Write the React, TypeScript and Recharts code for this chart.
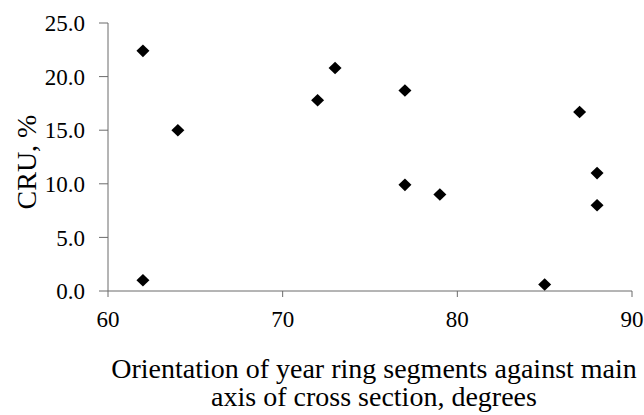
import React from 'react';
import { ScatterChart, Scatter, XAxis, YAxis, Label } from 'recharts';

const orientation = [62, 62, 64, 72, 73, 77, 77, 79, 85, 87, 88, 88];
const cru = [22.4, 1.0, 15.0, 17.8, 20.8, 18.7, 9.9, 9.0, 0.6, 16.7, 11.0, 8.0];
const xTicks = [60, 70, 80, 90];
const yTicks = [0, 5, 10, 15, 20, 25];

const data = orientation.map((x, i) => ({ x, y: cru[i] }));

const FONT = '"Liberation Serif", "Times New Roman", serif';
const AXIS = '#6b6b6b';

const Diamond = (props: any) => {
  const { cx, cy } = props;
  const rx = 6.5;
  const ry = 6.3;
  return <path d={`M${cx},${cy - ry}L${cx + rx},${cy}L${cx},${cy + ry}L${cx - rx},${cy}Z`} fill="#000" />;
};

const XTick = (props: any) => {
  const { x, y, payload } = props;
  return (
    <text x={x} y={y} dy="0.71em" textAnchor="middle" fontFamily={FONT} fontSize={23} fill="#000">
      {payload.value}
    </text>
  );
};

const YTick = (props: any) => {
  const { x, y, payload } = props;
  return (
    <text x={x} y={y} dy="0.355em" textAnchor="end" fontFamily={FONT} fontSize={23} fill="#000">
      {Number(payload.value).toFixed(1)}
    </text>
  );
};

const XLabel = (props: any) => {
  const vb = props.viewBox || {};
  const cx = vb.x + vb.width / 2 + 4;
  return (
    <text x={cx} textAnchor="middle" fontFamily={FONT} fontSize={28} fill="#000">
      <tspan x={cx} y={vb.y + 87}>Orientation of year ring segments against main</tspan>
      <tspan x={cx} y={vb.y + 115}>axis of cross section, degrees</tspan>
    </text>
  );
};

const YLabel = (props: any) => {
  const vb = props.viewBox || {};
  const x = vb.x + 36;
  const y = vb.y + vb.height / 2 + 5;
  return (
    <text x={x} y={y} transform={`rotate(-90, ${x}, ${y})`} textAnchor="middle" fontFamily={FONT} fontSize={28} fill="#000">
      CRU, %
    </text>
  );
};

export default function App() {
  return (
    <div style={{ position: 'absolute', left: 0, top: 0, width: 644, height: 415, background: '#fff' }}>
      <ScatterChart width={644} height={415} margin={{ top: 23, right: 12, left: 0, bottom: 0 }}>
        <XAxis
          type="number"
          dataKey="x"
          domain={[60, 90]}
          ticks={xTicks}
          stroke={AXIS}
          tickSize={6}
          tickMargin={14}
          height={124}
          tick={<XTick />}
          tickLine={{ stroke: AXIS }}
        >
          <Label content={<XLabel />} />
        </XAxis>
        <YAxis
          type="number"
          dataKey="y"
          domain={[0, 25]}
          ticks={yTicks}
          width={108}
          stroke={AXIS}
          tickSize={9}
          tickMargin={14}
          tick={<YTick />}
          tickLine={{ stroke: AXIS }}
        >
          <Label content={<YLabel />} />
        </YAxis>
        <Scatter data={data} shape={<Diamond />} isAnimationActive={false} />
      </ScatterChart>
    </div>
  );
}
